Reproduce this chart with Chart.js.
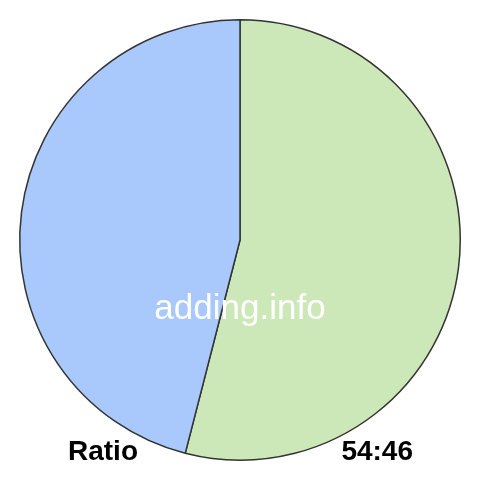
<!DOCTYPE html>
<html>
<head>
<meta charset="utf-8">
<script src="https://cdn.jsdelivr.net/npm/chart.js@4"></script>
<style>
  html, body { margin: 0; padding: 0; background: #fff; }
  #wrap { width: 480px; height: 480px; }
</style>
</head>
<body>
<div id="wrap"><canvas id="chart" width="480" height="480"></canvas></div>
<script>
const labels = ['54', '46'];
const values = [54, 46];
const colors = ['#cde8b8', '#a9c8fb'];
const ratioLabel = 'Ratio';
const ratioText = '54:46';
const watermark = 'adding.info';

// texts painted over the pie
const textPlugin = {
  id: 'texts',
  afterDraw(chart) {
    const ctx = chart.ctx;
    ctx.save();
    ctx.fillStyle = '#ffffff';
    ctx.font = '35px "Liberation Sans", Arial, sans-serif';
    ctx.textAlign = 'center';
    ctx.textBaseline = 'alphabetic';
    ctx.fillText(watermark, 240, 319);

    ctx.fillStyle = '#000000';
    ctx.font = 'bold 28px "Liberation Sans", Arial, sans-serif';
    ctx.textAlign = 'left';
    ctx.fillText(ratioLabel, 68, 460);
    ctx.textAlign = 'right';
    ctx.fillText(ratioText, 413, 460);
    ctx.restore();
  }
};

new Chart(document.getElementById('chart').getContext('2d'), {
  type: 'pie',
  data: {
    labels: labels,
    datasets: [{
      data: values,
      backgroundColor: colors,
      borderColor: '#333333',
      borderWidth: 1.5
    }]
  },
  options: {
    responsive: false,
    animation: false,
    layout: { padding: 19 },
    plugins: {
      legend: { display: false },
      tooltip: { enabled: false }
    }
  },
  plugins: [textPlugin]
});
</script>
</body>
</html>
